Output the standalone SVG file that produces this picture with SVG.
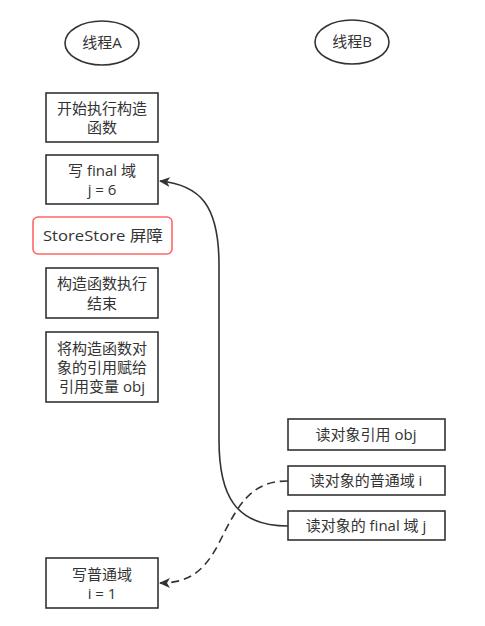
<svg xmlns="http://www.w3.org/2000/svg" width="485" height="626" viewBox="0 0 485 626">
<style>
text{font-family:"Open Sans","Noto Sans CJK SC",sans-serif;font-size:15px;fill:#333;text-anchor:middle;dominant-baseline:central}
.box{fill:#fff;stroke:#333;stroke-width:1.6}
.ell{fill:#fff;stroke:#333;stroke-width:1.6}
.edge{fill:none;stroke:#333;stroke-width:1.6}
</style>
<defs>
<marker id="arr" markerWidth="12" markerHeight="10" refX="10" refY="5" orient="auto" markerUnits="userSpaceOnUse">
<path d="M0,0 L11,5 L0,10 L3,5 Z" fill="#333"/>
</marker>
</defs>
<rect width="485" height="626" fill="#fff"/>
<g id="threadA"><ellipse class="ell" cx="102" cy="43" rx="37" ry="22"/><text x="102" y="42">线程A</text></g>
<g id="threadB"><ellipse class="ell" cx="352" cy="42" rx="37" ry="22"/><text x="352" y="41">线程B</text></g>
<g id="a1"><rect class="box" x="46" y="93" width="112" height="49"/><text x="102" y="108">开始执行构造</text><text x="102" y="127">函数</text></g>
<g id="a2"><rect class="box" x="46" y="155" width="112" height="49"/><text x="102" y="170">写 final 域</text><text x="102" y="189">j = 6</text></g>
<g id="barrier"><rect x="33" y="217" width="139" height="37" rx="5" fill="#fff" stroke="#FF6666" stroke-width="1.6"/><text x="103" y="235" font-size="16" textLength="120" lengthAdjust="spacingAndGlyphs">StoreStore 屏障</text></g>
<g id="a3"><rect class="box" x="46" y="268" width="112" height="50"/><text x="102" y="283">构造函数执行</text><text x="102" y="303">结束</text></g>
<g id="a4"><rect class="box" x="46" y="332" width="112" height="70"/><text x="102" y="348">将构造函数对</text><text x="102" y="367">象的引用赋给</text><text x="102" y="386">引用变量 obj</text></g>
<g id="a5"><rect class="box" x="46" y="558" width="112" height="50"/><text x="102" y="574">写普通域</text><text x="102" y="593">i = 1</text></g>
<g id="b1"><rect class="box" x="288" y="419" width="157" height="31"/><text x="366" y="434">读对象引用 obj</text></g>
<g id="b2"><rect class="box" x="288" y="466" width="157" height="29"/><text x="366" y="480">读对象的普通域 i</text></g>
<g id="b3"><rect class="box" x="288" y="511" width="157" height="29"/><text x="366" y="525">读对象的 final 域 j</text></g>
<g id="connectors">
<path class="edge" d="M288,526 C235,526 219,495 219,440 L219,265 C219,205 200,185 160,181" marker-end="url(#arr)"/>
<path class="edge" stroke-dasharray="8,5" d="M288,481 C250,481 238,505 218,545 C202,575 185,583 160,583" marker-end="url(#arr)"/>
</g>
</svg>
